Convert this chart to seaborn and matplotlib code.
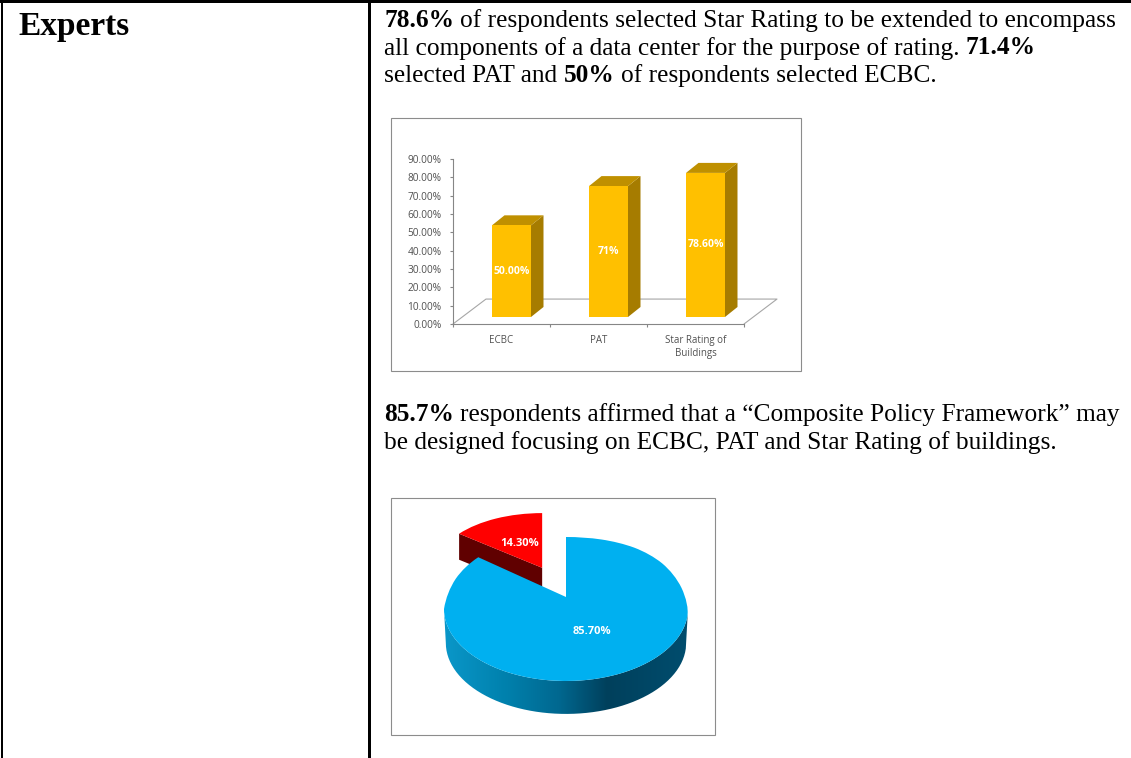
import numpy as np
import matplotlib
matplotlib.use("Agg")
import matplotlib.pyplot as plt
import seaborn as sns
from matplotlib.colors import LinearSegmentedColormap
from matplotlib.patches import PathPatch, Polygon, Rectangle
from matplotlib.path import Path
from matplotlib.transforms import IdentityTransform

W, H = 1131, 758

# bar chart data
bar_categories = ["ECBC", "PAT", "Star Rating of\nBuildings"]
bar_values = [50.0, 71.4, 78.6]
bar_labels = ["50.00%", "71%", "78.60%"]
y_ticks = [0, 10, 20, 30, 40, 50, 60, 70, 80, 90]

# pie chart data
pie_values = [85.7, 14.3]
pie_labels = ["85.70%", "14.30%"]

# document text, (text, bold) runs per line
para_1 = [
    [("78.6%", True), ("of respondents selected Star Rating to be extended to encompass", False)],
    [("all components of a data center for the purpose of rating.", False), ("71.4%", True)],
    [("selected PAT and", False), ("50%", True), ("of respondents selected ECBC.", False)],
]
para_2 = [
    [("85.7%", True), ("respondents affirmed that a “Composite Policy Framework” may", False)],
    [("be designed focusing on ECBC, PAT and Star Rating of buildings.", False)],
]

sns.set_theme(style="white")
plt.rcParams["font.family"] = ["Liberation Serif", "DejaVu Sans"]

fig = plt.figure(figsize=(W / 100, H / 100), dpi=100, facecolor="white")


def px_axes(left, top, right, bottom, **kw):
    # axes placed by picture pixels
    return fig.add_axes([left / W, 1 - bottom / H, (right - left) / W, (bottom - top) / H], **kw)


page = px_axes(0, 0, W, H, zorder=10)
page.set_xlim(0, W)
page.set_ylim(H, 0)
page.axis("off")
page.patch.set_alpha(0)

# table lines
page.add_patch(Rectangle((0, 0), W, 2.6, color="black", lw=0))
page.add_patch(Rectangle((0.8, 0), 2.4, H, color="black", lw=0))
page.add_patch(Rectangle((367.8, 0), 3, H, color="black", lw=0))

# chart frames
page.add_patch(Rectangle((390.5, 117.5), 410, 253, fill=False, ec="#8c8c8c", lw=0.8))
page.add_patch(Rectangle((390.5, 497.5), 324, 237, fill=False, ec="#8c8c8c", lw=0.8))

renderer = fig.canvas.get_renderer()
TEXT_SIZE = 18.3


def text_width(s, bold):
    t = page.text(0, 0, s, fontsize=TEXT_SIZE, fontweight="bold" if bold else "normal")
    w = t.get_window_extent(renderer).width
    t.remove()
    return w


def draw_line(x, y, runs):
    gap = text_width("x x", False) - text_width("xx", False)
    for s, bold in runs:
        page.text(x, y, s, fontsize=TEXT_SIZE, fontweight="bold" if bold else "normal",
                  color="black", va="baseline", ha="left")
        x += text_width(s, bold) + gap


page.text(18, 35, "Experts", fontsize=24, fontweight="bold", color="black", va="baseline")
for line, base in zip(para_1, [27, 54.5, 82]):
    draw_line(384, base, line)
for line, base in zip(para_2, [421, 449]):
    draw_line(384, base, line)

plt.rcParams["font.family"] = ["Open Sans", "DejaVu Sans"]

# ---- bar chart
GREY = "#868686"
ax_base = px_axes(453, 159, 744, 324, zorder=2)
ax_base.set_xlim(-0.5, 2.5)
ax_base.set_ylim(0, 90)
ax_base.patch.set_alpha(0)
for side in ["top", "right"]:
    ax_base.spines[side].set_visible(False)
for side in ["left", "bottom"]:
    ax_base.spines[side].set_color(GREY)
    ax_base.spines[side].set_linewidth(0.8)
ax_base.set_yticks(y_ticks)
ax_base.set_yticklabels([f"{v:.2f}%" for v in y_ticks], fontsize=7.3, color="#505050")
ax_base.set_xticks([0, 1, 2])
ax_base.set_xticklabels(bar_categories, fontsize=7, color="#505050", linespacing=1.25)
ax_base.set_xticks([-0.5, 0.5, 1.5, 2.5], minor=True)
ax_base.tick_params(axis="x", which="major", length=0, pad=8)
ax_base.tick_params(axis="x", which="minor", length=2.2, color=GREY, width=0.8, bottom=True)
ax_base.tick_params(axis="y", length=2.2, color=GREY, width=0.8, pad=6, left=True)

# floor of the 3D box
floor_x = [-0.5, -0.16, 2.84, 2.5]
floor_y = [0, 13.6, 13.6, 0]
ax_base.plot(floor_x, floor_y, color="#a6a6a6", lw=0.8, clip_on=False)

ax_bar = px_axes(463, 152, 754, 317, zorder=3)
ax_bar.patch.set_alpha(0)
sns.barplot(x=bar_categories, y=bar_values, color="#FFC000", saturation=1, width=0.402,
            ax=ax_bar, zorder=3, edgecolor="none")
ax_bar.set_xlim(-0.5, 2.5)
ax_bar.set_ylim(0, 90)
ax_bar.axis("off")
ax_bar.bar_label(ax_bar.containers[0], labels=bar_labels, label_type="center",
                 color="white", fontsize=7.5, fontweight="bold", zorder=6)

# side and top faces from the real bars, depth in pixels
dx, dy = 12.5, 10
for bar in ax_bar.patches:
    x0, y0 = ax_bar.transData.transform((bar.get_x(), 0))
    x1, y1 = ax_bar.transData.transform((bar.get_x() + bar.get_width(), bar.get_height()))
    ax_bar.add_patch(Polygon([(x1, y0), (x1 + dx, y0 + dy), (x1 + dx, y1 + dy), (x1, y1)],
                             fc="#A67C00", ec="none", transform=IdentityTransform(),
                             zorder=2, clip_on=False))
    ax_bar.add_patch(Polygon([(x0, y1), (x0 + dx, y1 + dy), (x1 + dx, y1 + dy), (x1, y1)],
                             fc="#BF9000", ec="none", transform=IdentityTransform(),
                             zorder=2, clip_on=False))

# ---- pie chart
cx, cy, rx, ry = 566, 609, 122, 72
lim = 1.6
ax_pie = px_axes(cx - rx * lim, cy - ry * lim, cx + rx * lim, cy + ry * lim, zorder=4)
wedges, _ = ax_pie.pie(pie_values, colors=["#00B0F0", "#FF0000"], startangle=90,
                       counterclock=False, explode=[0, 0.45], radius=1)
ax_pie.set_aspect("auto")
ax_pie.set_xlim(-lim, lim)
ax_pie.set_ylim(-lim, lim)
ax_pie.axis("off")

# perspective: the slice tip sits behind the ellipse centre, the red slice is further away
APEX_SHIFT = 12 / ry
face_scale = [(1.0, 1.0), (0.87, 0.76)]
pie_faces = []
for wedge, scale, z, is_far in zip(wedges, face_scale, [6, 3], [False, True]):
    path = wedge.get_path()
    center = np.array(wedge.center)
    apex = center + (0, APEX_SHIFT)
    at_center = np.all(np.isclose(path.vertices, center), axis=1)
    origin = apex if is_far else center
    verts = origin + (path.vertices - center) * np.array(scale)
    if not is_far:
        # back half of the big slice narrows with distance
        back = verts[:, 1] > 0
        back_y = verts[back, 1].copy()
        verts[back, 0] *= 1 - 0.13 * back_y
        verts[back, 1] = back_y + 0.41 * back_y * (1 - back_y)
    verts[at_center] = apex
    wedge.set_visible(False)
    ax_pie.add_patch(PathPatch(Path(verts, path.codes), fc=wedge.get_facecolor(), ec="none", zorder=z))
    pie_faces.append((verts, at_center, apex))

# dark cut side of the red slice
red_verts, red_center, red_apex = pie_faces[1]
red_arc = red_verts[~red_center]
red_far = red_arc[np.argmin(red_arc[:, 0])]
cut_depth = 26 / ry
ax_pie.add_patch(Polygon([red_far, red_apex, red_apex - (0, cut_depth), red_far - (0, cut_depth)],
                         fc="#600000", ec="none", zorder=2))

# rim of the blue slice with a gradient
rim_depth = 34 / ry
theta = np.linspace(np.pi, 2 * np.pi, 120)
rim_top = np.column_stack([np.cos(theta), np.sin(theta)])
rim_bot = np.column_stack([np.cos(theta) * 0.985, np.sin(theta) * 0.985 - rim_depth])
rim_path = Path(np.vstack([rim_top, rim_bot[::-1], rim_top[:1]]))
rim_clip = PathPatch(rim_path, fc="none", ec="none", transform=ax_pie.transData)
ax_pie.add_patch(rim_clip)
rim_cmap = LinearSegmentedColormap.from_list(
    "rim", [(0, "#0A97C9"), (0.26, "#0080AC"), (0.47, "#006890"), (0.67, "#00405C"), (1, "#004D6E")])
im = ax_pie.imshow(np.linspace(0, 1, 256)[None, :], cmap=rim_cmap, extent=(-1, 1, -2, 1),
                   aspect="auto", zorder=5)
im.set_clip_path(rim_clip)
ax_pie.set_xlim(-lim, lim)
ax_pie.set_ylim(-lim, lim)

page.text(592, 632, pie_labels[0], color="white", fontsize=8, fontweight="bold", ha="center", va="center")
page.text(520, 543, pie_labels[1], color="white", fontsize=8, fontweight="bold", ha="center", va="center")

fig.savefig("out.png", dpi=100)
